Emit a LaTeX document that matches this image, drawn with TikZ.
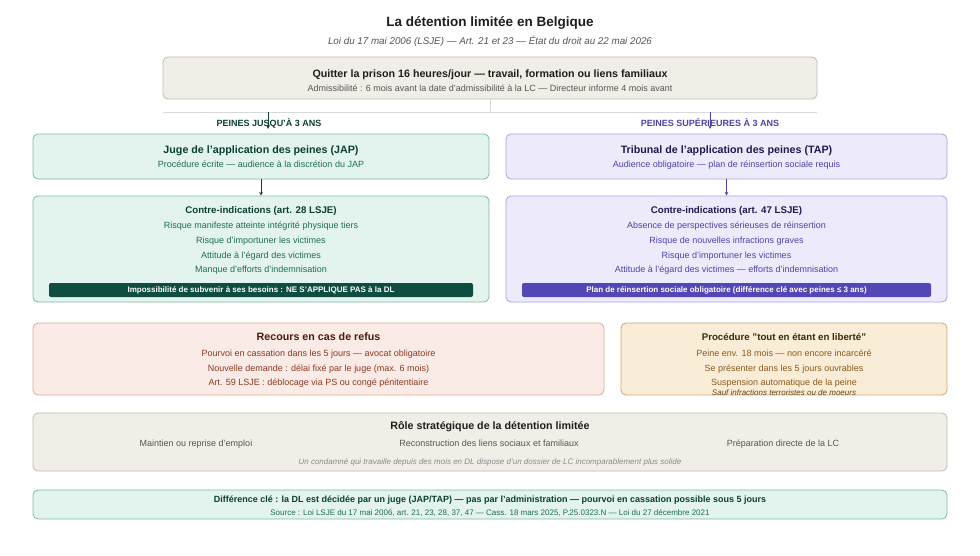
\documentclass[tikz,border=0pt]{standalone}
\usepackage{fontspec}
\setmainfont{Liberation Sans}
\usetikzlibrary{positioning}

\definecolor{pageGray}{HTML}{F1EEE8}
\definecolor{lineGray}{HTML}{BFBBB3}
\definecolor{splitGray}{HTML}{D9D9D9}
\definecolor{inkDark}{HTML}{1E1E1E}
\definecolor{inkGray}{HTML}{555555}
\definecolor{inkLight}{HTML}{8A8A8A}
\definecolor{japFill}{HTML}{E3F4EE}
\definecolor{japLine}{HTML}{80B9A5}
\definecolor{japDark}{HTML}{0B3F33}
\definecolor{japText}{HTML}{1F6B57}
\definecolor{japBanner}{HTML}{0E4D40}
\definecolor{tapFill}{HTML}{EDEBFB}
\definecolor{tapLine}{HTML}{A9A4DE}
\definecolor{tapDark}{HTML}{1E1A4F}
\definecolor{tapText}{HTML}{4B44A8}
\definecolor{tapBanner}{HTML}{5247B5}
\definecolor{recFill}{HTML}{FAEBE6}
\definecolor{recLine}{HTML}{E3A792}
\definecolor{recDark}{HTML}{4A1B0F}
\definecolor{recText}{HTML}{8A3A22}
\definecolor{libFill}{HTML}{FAEDD8}
\definecolor{libLine}{HTML}{CFA872}
\definecolor{libDark}{HTML}{3D2709}
\definecolor{libText}{HTML}{8A5A1A}

\tikzstyle{panel}=[draw, rounded corners=5pt, line width=0.8pt, inner sep=0pt]
\tikzstyle{banner}=[rounded corners=2pt, inner sep=0pt, text=white, font=\bfseries\fontsize{8}{9}\selectfont]
\tikzstyle{headText}=[inner sep=0pt, text height=10pt, text depth=1pt, font=\bfseries\fontsize{10.7}{12}\selectfont]
\tikzstyle{ciHead}=[inner sep=0pt, text height=10pt, text depth=1pt, font=\bfseries\fontsize{9.7}{11}\selectfont]
\tikzstyle{bodyText}=[inner sep=0pt, text height=8pt, text depth=1pt, font=\fontsize{9}{10}\selectfont]
\tikzstyle{smallText}=[inner sep=0pt, text height=8pt, text depth=1pt, font=\itshape\fontsize{8}{9}\selectfont]
\tikzstyle{branchLabel}=[inner sep=0pt, text height=9pt, text depth=0pt, font=\bfseries\fontsize{9}{10}\selectfont]
\tikzstyle{flowArrow}=[-stealth, line width=0.7pt]

\begin{document}
\begin{tikzpicture}[x=1pt, y=-1pt]
	\useasboundingbox[fill=white] (0,0) rectangle (980,555);

	\node[font=\bfseries\fontsize{13.5}{15}\selectfont, text=inkDark] (title) at (490,22.5) {La détention limitée en Belgique};
	\node[font=\itshape\fontsize{9.8}{11}\selectfont, text=inkGray] (subtitle) at (490,41) {Loi du 17 mai 2006 (LSJE) — Art. 21 et 23 — État du droit au 22 mai 2026};

	% entree
	\node[panel, fill=pageGray, draw=lineGray, minimum width=654pt, minimum height=42pt] (entry) at (490,78) {};
	\node[headText, text=inkDark] (entryHead) at (490,73) {Quitter la prison 16 heures/jour — travail, formation ou liens familiaux};
	\node[bodyText, text=inkGray] (entryBody) at (490,88) {Admissibilité : 6 mois avant la date d'admissibilité à la LC — Directeur informe 4 mois avant};

	\coordinate (split) at (490,112);
	\coordinate (splitW) at (163,112);
	\coordinate (splitE) at (817,112);
	\coordinate (splitL) at (268,112);
	\coordinate (splitR) at (710,112);
	\coordinate (tipL) at (268,129);
	\coordinate (tipR) at (710,129);
	\draw[splitGray, line width=0.8pt] (entry) -- (split);
	\draw[splitGray, line width=0.8pt] (splitW) -- (splitE);

	\node[branchLabel, text=japDark] (branchL) at (269,122) {PEINES JUSQU'À 3 ANS};
	\node[branchLabel, text=tapText] (branchR) at (710,122) {PEINES SUPÉRIEURES À 3 ANS};
	\draw[flowArrow, japDark] (splitL) -- (tipL);
	\draw[flowArrow, tapText] (splitR) -- (tipR);

	% JAP
	\node[panel, fill=japFill, draw=japLine, minimum width=456pt, minimum height=45pt] (jap) at (261,156.5) {};
	\node[headText, text=japDark] (japHead) at (261,149) {Juge de l'application des peines (JAP)};
	\node[bodyText, text=japText] (japBody) at (261,164) {Procédure écrite — audience à la discrétion du JAP};

	\node[panel, fill=japFill, draw=japLine, minimum width=456pt, minimum height=106pt] (ciL) at (261,249) {};
	\node[ciHead, text=japDark] (ciLHead) at (261,209) {Contre-indications (art. 28 LSJE)};
	\node[bodyText, text=japText] (ciL1) at (261,225) {Risque manifeste atteinte intégrité physique tiers};
	\node[bodyText, text=japText] (ciL2) at (261,240) {Risque d'importuner les victimes};
	\node[bodyText, text=japText] (ciL3) at (261,255) {Attitude à l'égard des victimes};
	\node[bodyText, text=japText] (ciL4) at (261,269) {Manque d'efforts d'indemnisation};
	\node[banner, fill=japBanner, minimum width=424pt, minimum height=14pt] (banL) at (261,290) {Impossibilité de subvenir à ses besoins : NE S'APPLIQUE PAS à la DL};

	\draw[flowArrow, japDark] (jap) -- (ciL);

	% TAP
	\node[panel, fill=tapFill, draw=tapLine, minimum width=441pt, minimum height=45pt] (tap) at (726.5,156.5) {};
	\node[headText, text=tapDark] (tapHead) at (726.5,149) {Tribunal de l'application des peines (TAP)};
	\node[bodyText, text=tapText] (tapBody) at (726.5,164) {Audience obligatoire — plan de réinsertion sociale requis};

	\node[panel, fill=tapFill, draw=tapLine, minimum width=441pt, minimum height=106pt] (ciR) at (726.5,249) {};
	\node[ciHead, text=tapDark] (ciRHead) at (726.5,209) {Contre-indications (art. 47 LSJE)};
	\node[bodyText, text=tapText] (ciR1) at (726.5,225) {Absence de perspectives sérieuses de réinsertion};
	\node[bodyText, text=tapText] (ciR2) at (726.5,240) {Risque de nouvelles infractions graves};
	\node[bodyText, text=tapText] (ciR3) at (726.5,255) {Risque d'importuner les victimes};
	\node[bodyText, text=tapText] (ciR4) at (726.5,269) {Attitude à l'égard des victimes — efforts d'indemnisation};
	\node[banner, fill=tapBanner, minimum width=409pt, minimum height=14pt] (banR) at (726.5,290) {Plan de réinsertion sociale obligatoire (différence clé avec peines ≤ 3 ans)};

	\draw[flowArrow, tapText] (tap) -- (ciR);

	% recours
	\node[panel, fill=recFill, draw=recLine, minimum width=571pt, minimum height=72pt] (rec) at (318.5,359) {};
	\node[headText, text=recDark] (recHead) at (318.5,336) {Recours en cas de refus};
	\node[bodyText, text=recText] (rec1) at (318.5,353) {Pourvoi en cassation dans les 5 jours — avocat obligatoire};
	\node[bodyText, text=recText] (rec2) at (318.5,368) {Nouvelle demande : délai fixé par le juge (max. 6 mois)};
	\node[bodyText, text=recText] (rec3) at (318.5,382) {Art. 59 LSJE : déblocage via PS ou congé pénitentiaire};

	% en liberte
	\node[panel, fill=libFill, draw=libLine, minimum width=326pt, minimum height=72pt] (lib) at (784,359) {};
	\node[ciHead, text=libDark] (libHead) at (784,336) {Procédure "tout en étant en liberté"};
	\node[bodyText, text=libText] (lib1) at (784,353) {Peine env. 18 mois — non encore incarcéré};
	\node[bodyText, text=libText] (lib2) at (784,368) {Se présenter dans les 5 jours ouvrables};
	\node[bodyText, text=libText] (lib3) at (784,382) {Suspension automatique de la peine};
	\node[smallText, text=libText!75!black] (lib4) at (784,392) {Sauf infractions terroristes ou de moeurs};

	% role
	\node[panel, fill=pageGray, draw=lineGray, minimum width=914pt, minimum height=58pt] (role) at (490,442) {};
	\node[headText, text=inkDark] (roleHead) at (490,425) {Rôle stratégique de la détention limitée};
	\node[bodyText, text=inkGray] (role1) at (196,443) {Maintien ou reprise d'emploi};
	\node[bodyText, text=inkGray] (role2) at (489,443) {Reconstruction des liens sociaux et familiaux};
	\node[bodyText, text=inkGray] (role3) at (783,443) {Préparation directe de la LC};
	\node[smallText, text=inkLight] (roleNote) at (490,461) {Un condamné qui travaille depuis des mois en DL dispose d'un dossier de LC incomparablement plus solide};

	% cle
	\node[panel, fill=japFill, draw=japLine, minimum width=914pt, minimum height=29pt] (key) at (490,504.5) {};
	\node[bodyText, font=\bfseries\fontsize{9}{10}\selectfont, text=japDark] (keyHead) at (490,499) {Différence clé : la DL est décidée par un juge (JAP/TAP) — pas par l'administration — pourvoi en cassation possible sous 5 jours};
	\node[smallText, font=\fontsize{8}{9}\selectfont, text=japText] (keySource) at (490,512) {Source : Loi LSJE du 17 mai 2006, art. 21, 23, 28, 37, 47 — Cass. 18 mars 2025, P.25.0323.N — Loi du 27 décembre 2021};
\end{tikzpicture}
\end{document}
